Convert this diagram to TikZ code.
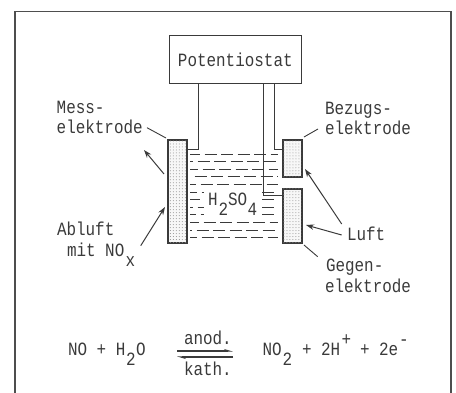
\documentclass[tikz,border=0pt]{standalone}
\usepackage{fontspec}
\setmainfont[FakeStretch=0.85]{Liberation Mono}
\usetikzlibrary{patterns,arrows.meta}
\definecolor{ink}{HTML}{3A3A3A}
\tikzset{
  x=1bp,y=-1bp,
  lbl/.style={anchor=base west,inner sep=0pt,outer sep=0pt,text=ink,font=\fontsize{18.8}{18.8}\selectfont},
  wire/.style={draw=ink,line width=1bp},
  lead/.style={draw=ink,line width=0.9bp},
  arr/.style={draw=ink,line width=1bp,-{Stealth[length=8bp,width=5.5bp]}},
  elec/.style={rectangle,inner sep=0pt,outer sep=0pt,draw=ink,line width=2bp,fill=black!3,postaction={pattern=dots,pattern color=black!45}},
  bath/.style={draw=ink,line width=1bp,dash pattern=on 12bp off 4.5bp},
  halfarr/.style={draw=ink,line width=1.1bp,-{Stealth[harpoon,length=7bp,width=4bp]}}
}
\begin{document}
\begin{tikzpicture}
\useasboundingbox (0,0) rectangle (456,392);
% frame
\draw[draw=ink!90,line width=1.8bp] (15,393) -- (15,11.5) -- (451,11.5) -- (451,393);
% bath
\foreach \y/\ph in {154/2,161.6/9,169.2/4,176.8/12,184.4/6,222.4/3,230/10,237.6/5}
  \draw[bath,dash phase=\ph bp] (190,\y) -- (278,\y);
\foreach \y/\ph in {192/5,199.6/2,207.2/9,214.8/6}{
  \draw[bath,dash phase=\ph bp] (190,\y) -- (204,\y);
  \draw[bath] (262,\y) -- (278,\y);}
% box and electrodes
\node[rectangle,draw=ink,line width=1.1bp,minimum width=132bp,minimum height=47.5bp,inner sep=0pt,outer sep=0pt,anchor=north west,text=ink,font=\fontsize{18.8}{18.8}\selectfont] (pot) at (169.3,35.7) {Potentiostat};
\node[elec,minimum width=19.5bp,minimum height=103bp,anchor=north west] (mess) at (167.8,140) {};
\node[elec,minimum width=18.5bp,minimum height=37bp,anchor=north west] (bez) at (283,140) {};
\node[elec,minimum width=18.5bp,minimum height=54.5bp,anchor=north west] (geg) at (283,188.7) {};
% wires
\coordinate (w1a) at (198,83.2); \coordinate (w1b) at (198,149); \coordinate (w1c) at (187.5,149);
\coordinate (w2a) at (274,83.2); \coordinate (w2b) at (274,149); \coordinate (w2c) at (283,149);
\coordinate (w3a) at (263.7,83.2); \coordinate (w3b) at (263.7,195.7); \coordinate (w3c) at (283,195.7);
\draw[wire] (w1a) -- (w1b) -- (w1c);
\draw[wire] (w2a) -- (w2b) -- (w2c);
\draw[wire] (w3a) -- (w3b) -- (w3c);
% labels
\node[lbl] (l1) at (56.7,113) {Mess-};
\node[lbl] (l2) at (56.7,133) {elektrode};
\node[lbl] (l3) at (57,235) {Abluft};
\node[lbl] (l4) at (67,256) {mit NO};
\node[lbl] (l4x) at (125.5,266) {x};
\node[lbl] (r1) at (325,114) {Bezugs-};
\node[lbl] (r2) at (325,134) {elektrode};
\node[lbl] (r3) at (347,240) {Luft};
\node[lbl] (r4) at (326,271) {Gegen-};
\node[lbl] (r5) at (325,292.5) {elektrode};
\node[lbl] (h1) at (208,205) {H};
\node[lbl] (h2) at (218.5,215) {2};
\node[lbl] (h3) at (228,205) {SO};
\node[lbl] (h4) at (247.5,215) {4};
% leads and arrows
\coordinate (m0) at (147,127.7); \coordinate (m1) at (166,138);
\coordinate (b0) at (318,129);   \coordinate (b1) at (304,137);
\coordinate (g0) at (304,245);   \coordinate (g1) at (317.7,256.7);
\draw[lead] (m0) -- (m1);
\draw[lead] (b0) -- (b1);
\draw[lead] (g0) -- (g1);
\coordinate (a0) at (164,174); \coordinate (a1) at (144,150);
\coordinate (c0) at (140.7,245.7); \coordinate (c1) at (165,207);
\coordinate (d0) at (341.7,224); \coordinate (d1) at (305,169);
\coordinate (e0) at (341.7,235); \coordinate (e1) at (306,225);
\draw[arr] (a0) -- (a1);
\draw[arr] (c0) -- (c1);
\draw[arr] (d0) -- (d1);
\draw[arr] (e0) -- (e1);
% equation
\node[lbl] (q1) at (68,355) {NO + H};
\node[lbl] (q2) at (126,365) {2};
\node[lbl] (q3) at (136,355) {O};
\node[lbl] (q4) at (184,344) {anod.};
\node[lbl] (q5) at (184,375) {kath.};
\coordinate (t0) at (177,351); \coordinate (t1) at (233,351);
\coordinate (u0) at (233,357); \coordinate (u1) at (177,357);
\draw[halfarr] (t0) -- (t1);
\draw[halfarr] (u0) -- (u1);
\node[lbl] (q6) at (262.5,355) {NO};
\node[lbl] (q7) at (282.5,365) {2};
\node[lbl] (q8) at (302,355) {+ 2H};
\node[lbl] (q9) at (341.5,345) {+};
\node[lbl] (q10) at (360,355) {+ 2e};
\node[lbl] (q11) at (399,345) {-};
\end{tikzpicture}
\end{document}
